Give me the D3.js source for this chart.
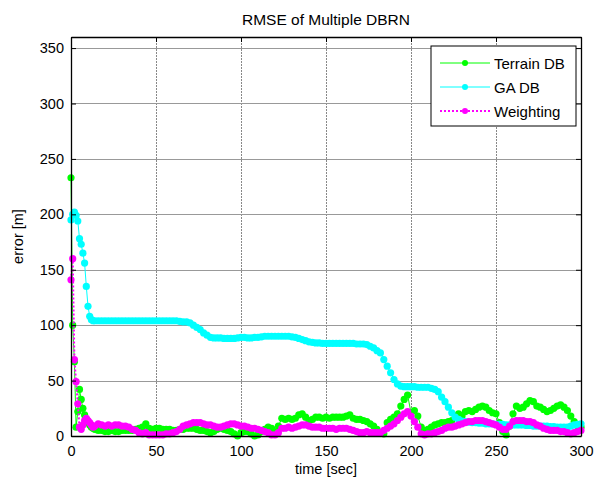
<!DOCTYPE html>
<html>
<head>
<meta charset="utf-8">
<script src="https://cdn.jsdelivr.net/npm/d3@7"></script>
<style>
  body { margin: 0; background: #fff; }
  svg text { font-family: "Liberation Sans", Arial, Helvetica, sans-serif; fill: #000; }
</style>
</head>
<body>
<div id="chart"></div>
<script>
// sample times [sec]: 1 s steps for the first 14 s, 2 s steps after
const time = d3.range(0, 14).concat(d3.range(14, 301, 2));

const terrainDB = [
  233, 100, 67, 8, 22, 42, 33, 25, 19, 15, 12, 10, 8, 7,
  6, 5, 5, 4, 4, 5, 4, 4, 5, 5,
  5, 5, 6, 7, 8, 11, 7, 6, 7, 7,
  6, 6, 6, 5, 5, 6, 6, 7, 7, 7,
  6, 5, 5, 4, 3, 4, 6, 7, 6, 5,
  4, 2, 0, 3, 4, 4, 2, 0, 1, 4,
  6, 8, 7, 4, 9, 16, 15, 16, 15, 16,
  19, 20, 17, 14, 15, 17, 17, 16, 17, 16,
  17, 17, 17, 17, 18, 19, 16, 15, 15, 14,
  13, 11, 9, 6, 3, 2, 12, 15, 17, 20,
  27, 33, 37, 21, 23, 18, 8, 5, 6, 8,
  10, 11, 12, 12, 13, 14, 18, 20, 18, 22,
  23, 22, 24, 26, 27, 26, 23, 21, 20, 12,
  4, 1, 9, 20, 27, 25, 26, 29, 32, 31,
  27, 26, 24, 22, 23, 25, 27, 28, 26, 23,
  18, 13, 9, 8
];

const gaDB = [
  195, 200, 202, 199, 194, 178, 173, 165, 156, 135, 117, 108, 105, 104,
  104, 104, 104, 104, 104, 104, 104, 104, 104, 104,
  104, 104, 104, 104, 104, 104, 104, 104, 104, 104,
  104, 104, 104, 104, 104, 103.5, 103, 103, 102, 100,
  98, 96, 93, 91, 89, 88.5, 88.5, 88.5, 88, 88,
  88, 88, 88.5, 89, 89, 88.5, 88.5, 89, 89, 89.5,
  90, 90, 90, 90, 90, 90, 90, 90, 89.5, 89,
  88, 87, 86, 85, 84.5, 84, 84, 83.5, 83.5, 83.5,
  83.5, 83.5, 83.5, 83.5, 83.5, 83.5, 83.5, 83, 83, 83,
  82.5, 81, 79.5, 77, 75, 69, 63, 57, 51, 47,
  45, 44.5, 44.5, 44.5, 44.5, 44, 44, 44, 44, 43,
  42, 40, 35, 31, 26, 21, 17, 15, 13.5, 13,
  12.5, 12, 12, 11.5, 11.5, 11, 11, 11, 10.5, 10.5,
  10.5, 10, 10, 10, 10, 10, 10, 9.5, 9.5, 9,
  9, 9, 9, 9, 8.5, 8.5, 8, 8, 8, 8,
  9, 10, 10.5, 11
];

const weighting = [
  141, 160, 69, 49, 29, 8, 6, 10, 14, 16, 14, 12, 10, 8,
  9, 11, 10, 9, 10, 9, 10, 10, 9, 9,
  8, 6, 5, 3, 2, 3, 1, 1, 1, 1,
  1, 2, 2, 3, 4, 6, 9, 10, 11, 12,
  12, 12, 11, 10, 10, 9, 8, 8, 9, 10,
  11, 11, 10, 9, 9, 8, 7, 7, 6, 5,
  4, 3, 1, 1, 3, 7, 7, 8, 7, 8,
  9, 10, 10, 9, 8, 8, 8, 7, 7, 7,
  7, 6, 7, 7, 7, 6, 5, 4, 3, 3,
  4, 3, 3, 3, 3, 5, 7, 9, 11, 14,
  17, 20, 22, 18, 13, 8, 2, 1, 2, 2,
  3, 4, 5, 7, 8, 8, 9, 10, 11, 12,
  13, 13, 14, 14, 14, 13, 12, 11, 10, 8,
  6, 6, 9, 13, 14, 14, 14, 13, 13, 12,
  10, 9, 7, 6, 5, 5, 5, 4, 4, 3,
  2, 3, 4, 5
];

const xTicks = [0, 50, 100, 150, 200, 250, 300];
const yTicks = [0, 50, 100, 150, 200, 250, 300, 350];

const series = [
  { name: "Terrain DB", values: terrainDB, color: "#00ff00", dash: null, width: 1 },
  { name: "GA DB", values: gaDB, color: "#00ffff", dash: null, width: 1 },
  { name: "Weighting", values: weighting, color: "#ff00ff", dash: "2,2", width: 2 }
];

const W = 605, H = 487;
const margin = { top: 37, right: 24, bottom: 51, left: 71 };
const width = W - margin.left - margin.right,
      height = H - margin.top - margin.bottom;

const svg = d3.select("#chart").append("svg")
  .attr("width", W)
  .attr("height", H);

const g = svg.append("g")
  .attr("transform", `translate(${margin.left},${margin.top})`);

const x = d3.scaleLinear().domain([0, 300]).range([0, width]);
const y = d3.scaleLinear().domain([0, 360]).range([height, 0]);

// grid
g.append("g").selectAll("line")
  .data(xTicks.slice(1, -1))
  .join("line")
  .attr("x1", d => Math.round(x(d)) + 0.5).attr("x2", d => Math.round(x(d)) + 0.5)
  .attr("y1", 0).attr("y2", height)
  .attr("stroke", "#888").attr("stroke-width", 1).attr("stroke-dasharray", "2,1");

g.append("g").selectAll("line")
  .data(yTicks.slice(1))
  .join("line")
  .attr("x1", 0).attr("x2", width)
  .attr("y1", d => Math.round(y(d)) + 0.5).attr("y2", d => Math.round(y(d)) + 0.5)
  .attr("stroke", "#999").attr("stroke-width", 1.2);

// series
const line = d3.line()
  .x((d, i) => x(time[i]))
  .y(d => y(d));

series.forEach(s => {
  const sg = g.append("g");
  sg.append("path")
    .datum(s.values)
    .attr("fill", "none")
    .attr("stroke", s.color)
    .attr("stroke-width", s.width)
    .attr("stroke-dasharray", s.dash)
    .attr("d", line);
  sg.selectAll("circle")
    .data(s.values)
    .join("circle")
    .attr("cx", (d, i) => x(time[i]))
    .attr("cy", d => y(d))
    .attr("r", 3.6)
    .attr("fill", s.color);
});

// axes (ticks pointing in, MATLAB style box)
const fs = "14.5px";
const xAxis = g.append("g")
  .attr("transform", `translate(0,${height})`)
  .call(d3.axisBottom(x).tickValues(xTicks).tickSize(-5).tickSizeOuter(0).tickPadding(10));
const yAxis = g.append("g")
  .call(d3.axisLeft(y).tickValues(yTicks).tickSize(-5).tickSizeOuter(0).tickPadding(7));
const topAxis = g.append("g")
  .call(d3.axisTop(x).tickValues(xTicks).tickSize(-5).tickSizeOuter(0).tickFormat(""));
const rightAxis = g.append("g")
  .attr("transform", `translate(${width},0)`)
  .call(d3.axisRight(y).tickValues(yTicks).tickSize(-5).tickSizeOuter(0).tickFormat(""));

[xAxis, yAxis, topAxis, rightAxis].forEach(a => {
  a.selectAll("path.domain").attr("stroke", "#000").attr("stroke-width", 1.3);
  a.selectAll(".tick line").attr("stroke", "#000");
  a.selectAll("text").style("font-size", fs).attr("fill", "#000");
});

// titles
svg.append("text")
  .attr("x", margin.left + width / 2).attr("y", 25)
  .attr("text-anchor", "middle")
  .style("font-size", "15.5px")
  .text("RMSE of Multiple DBRN");

svg.append("text")
  .attr("x", margin.left + width / 2).attr("y", 474)
  .attr("text-anchor", "middle")
  .style("font-size", fs)
  .text("time [sec]");

svg.append("text")
  .attr("transform", `translate(23,${margin.top + height / 2}) rotate(-90)`)
  .attr("text-anchor", "middle")
  .style("font-size", fs)
  .text("error [m]");

// legend
const lg = svg.append("g").attr("transform", "translate(431,46)");
lg.append("rect")
  .attr("width", 145).attr("height", 80)
  .attr("fill", "#fff").attr("stroke", "#000").attr("stroke-width", 1);

series.forEach((s, i) => {
  const yy = 17 + i * 24;
  lg.append("line")
    .attr("x1", 9).attr("x2", 59).attr("y1", yy).attr("y2", yy)
    .attr("stroke", s.color).attr("stroke-width", s.width)
    .attr("stroke-dasharray", s.dash);
  lg.append("circle")
    .attr("cx", 34).attr("cy", yy).attr("r", 3)
    .attr("fill", s.color);
  lg.append("text")
    .attr("x", 63).attr("y", yy + 5.5)
    .style("font-size", "15px")
    .text(s.name);
});
</script>
</body>
</html>
